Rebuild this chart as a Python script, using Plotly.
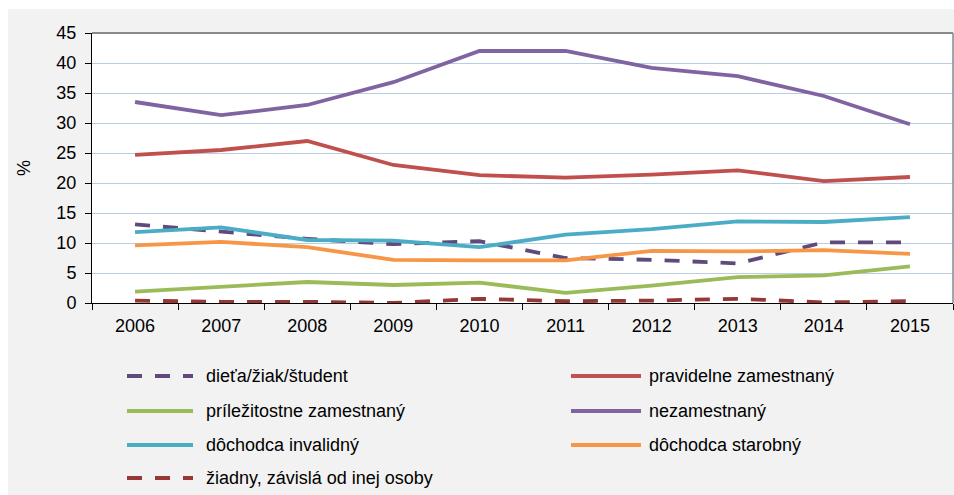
import plotly.graph_objects as go

years = ["2006", "2007", "2008", "2009", "2010", "2011", "2012", "2013", "2014", "2015"]
dieta = [13.1, 11.9, 10.7, 9.8, 10.3, 7.5, 7.2, 6.6, 10.1, 10.1]
pravidelne = [24.7, 25.5, 27.0, 23.0, 21.3, 20.9, 21.4, 22.1, 20.3, 21.0]
prilezitostne = [1.9, 2.7, 3.5, 3.0, 3.4, 1.7, 2.9, 4.3, 4.6, 6.1]
nezamestnany = [33.5, 31.3, 33.0, 36.8, 42.0, 42.0, 39.2, 37.8, 34.5, 29.8]
invalidny = [11.8, 12.6, 10.5, 10.4, 9.3, 11.4, 12.3, 13.6, 13.5, 14.3]
starobny = [9.6, 10.2, 9.3, 7.2, 7.1, 7.1, 8.7, 8.6, 8.8, 8.2]
ziadny = [0.4, 0.2, 0.2, 0.0, 0.7, 0.3, 0.4, 0.7, 0.1, 0.3]

names = ["dieťa/žiak/študent", "pravidelne zamestnaný", "príležitostne zamestnaný",
         "nezamestnaný", "dôchodca invalidný", "dôchodca starobný",
         "žiadny, závislá od inej osoby"]
series = [dieta, pravidelne, prilezitostne, nezamestnany, invalidny, starobny, ziadny]
colors = ["#604A7B", "#C0504D", "#9BBB59", "#8064A2", "#4BACC6", "#F79646", "#953735"]
DASH = "15px,13px"
dashes = [DASH, "solid", "solid", "solid", "solid", "solid", DASH]

W, H = 954, 495
ML, MR, MT, MB = 92, 1, 33, 192
PW = W - ML - MR
PH = H - MT - MB
FONT = "Liberation Sans, Arial, sans-serif"
LW = 3.8


def px(x):
    return (x - ML) / PW


def py(y):
    return (H - MB - y) / PH


fig = go.Figure()
for name, vals, col, dsh in zip(names, series, colors, dashes):
    fig.add_trace(go.Scatter(x=years, y=vals, name=name, mode="lines",
                             line=dict(color=col, width=LW, dash=dsh),
                             showlegend=False))

shapes = []
annotations = []
# white outer strips (top / left) around the grey chart area
shapes.append(dict(type="rect", xref="paper", yref="paper", x0=px(-5), x1=px(W + 5),
                   y0=py(9), y1=py(-5), fillcolor="white", line_width=0, layer="below"))
shapes.append(dict(type="rect", xref="paper", yref="paper", x0=px(-5), x1=px(8),
                   y0=py(H + 5), y1=py(-5), fillcolor="white", line_width=0, layer="below"))
# plot area border (top / right)
shapes.append(dict(type="line", xref="paper", yref="paper", x0=0, x1=1, y0=1, y1=1,
                   line=dict(color="#868A8E", width=2)))
shapes.append(dict(type="line", xref="paper", yref="paper", x0=1, x1=1, y0=0, y1=1,
                   line=dict(color="#868A8E", width=1.5)))

# manual legend (two columns), pixel positions
legend_pos = [
    (127, 193, 204, 376),
    (571, 641, 647, 376),
    (127, 193, 204, 411),
    (571, 641, 647, 411),
    (127, 193, 204, 445),
    (571, 641, 647, 445),
    (127, 193, 204, 478),
]
for (x0, x1, tx, ty), name, col, dsh in zip(legend_pos, names, colors, dashes):
    shapes.append(dict(type="line", xref="paper", yref="paper", x0=px(x0), x1=px(x1),
                       y0=py(ty), y1=py(ty),
                       line=dict(color=col, width=LW, dash=dsh)))
    annotations.append(dict(xref="paper", yref="paper", x=px(tx), y=py(ty), text=name,
                            showarrow=False, xanchor="left", yanchor="middle",
                            font=dict(family=FONT, size=18, color="#000000")))

fig.update_layout(
    width=W, height=H,
    margin=dict(l=ML, r=MR, t=MT, b=MB, pad=0),
    paper_bgcolor="#F2F2F2",
    plot_bgcolor="#FFFFFF",
    font=dict(family=FONT, size=18, color="#000000"),
    shapes=shapes,
    annotations=annotations,
    showlegend=False,
    xaxis=dict(type="category", range=[-0.5, 9.5], showgrid=False, zeroline=False,
               showline=True, linecolor="#000000", linewidth=1,
               ticks="outside", tickson="boundaries", ticklen=6, tickcolor="#000000",
               ticklabelstandoff=6,
               tickfont=dict(family=FONT, size=18, color="#000000")),
    yaxis=dict(range=[0, 45], dtick=5, showgrid=True, gridcolor="#B9CDE5", gridwidth=1,
               zeroline=False, showline=True, linecolor="#000000", linewidth=1,
               ticks="outside", ticklen=6, tickcolor="#000000",
               ticklabelstandoff=5,
               tickfont=dict(family=FONT, size=18, color="#000000"),
               title=dict(text="%", standoff=21,
                          font=dict(family=FONT, size=18, color="#000000"))),
)

fig.write_html(
    "out.html",
    config={"displayModeBar": False},
    post_script="document.body.style.margin='0';document.body.style.overflow='hidden';",
)
